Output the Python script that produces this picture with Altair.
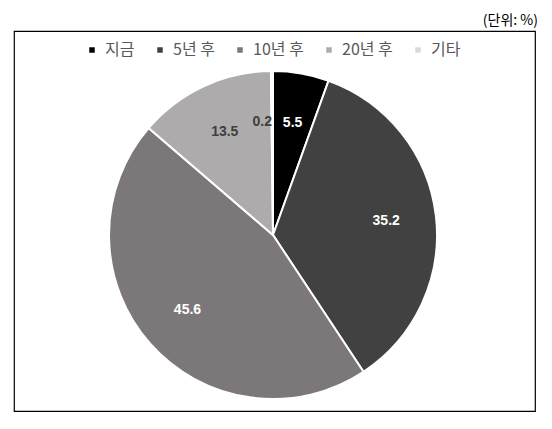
import altair as alt
import pandas as pd

categories = ["지금", "5년 후", "10년 후", "20년 후", "기타"]
values = [5.5, 35.2, 45.6, 13.5, 0.2]
labels = ["5.5", "35.2", "45.6", "13.5", "0.2"]
slice_colors = ["#000000", "#414141", "#7c7879", "#adabab", "#d9d9d9"]
label_colors = ["#ffffff", "#ffffff", "#ffffff", "#404040", "#404040"]
unit_note = ["(단위: %)"]

df = pd.DataFrame({
    "category": categories,
    "value": values,
    "label": labels,
    "order": list(range(len(categories))),
    "label_color": label_colors,
})

CX, CY = 259, 204

pie = alt.Chart(df).mark_arc(outerRadius=164, stroke="white", strokeWidth=2).encode(
    theta=alt.Theta("value:Q", stack=True),
    order=alt.Order("order:Q"),
    color=alt.Color(
        "category:N",
        sort=categories,
        scale=alt.Scale(domain=categories, range=slice_colors),
        legend=alt.Legend(
            orient="none", legendX=70, legendY=11, direction="horizontal",
            columns=5, title=None, symbolType="square", symbolSize=30,
            symbolStrokeWidth=0, labelFont="Noto Sans CJK KR", labelFontSize=16,
            labelColor="#595959", columnPadding=17, labelOffset=5,
        ),
    ),
    x=alt.value(CX),
    y=alt.value(CY),
)

text_base = alt.Chart(df).transform_window(
    cum="sum(value)", sort=[alt.SortField("order")]
).transform_calculate(
    mid="datum.cum - datum.value / 2"
)

theta_mid = alt.Theta("mid:Q", stack=False, scale=alt.Scale(domain=[0, 100], range=[0, 6.283185]))

text_main = text_base.transform_filter("datum.category != '기타'").mark_text(
    radius=114, fontSize=14, fontWeight="bold", font="Liberation Sans"
).encode(
    theta=theta_mid,
    text="label:N",
    color=alt.Color("label_color:N", scale=None),
    x=alt.value(CX),
    y=alt.value(CY),
)

text_small = text_base.transform_filter("datum.category == '기타'").mark_text(
    radius=113, fontSize=14, fontWeight="bold", font="Liberation Sans", dx=-10
).encode(
    theta=theta_mid,
    text="label:N",
    color=alt.Color("label_color:N", scale=None),
    x=alt.value(CX),
    y=alt.value(CY),
)

note = alt.Chart(pd.DataFrame({"note": unit_note})).mark_text(
    align="right", baseline="alphabetic", font="Noto Sans CJK KR",
    fontSize=14, color="#000000",
).encode(
    text="note:N",
    x=alt.value(524),
    y=alt.value(-6),
)

chart = alt.layer(pie, text_main, text_small, note).properties(
    width=521,
    height=380,
    padding={"left": 6, "top": 23, "right": 9, "bottom": 10},
    autosize="none",
    background="white",
).configure_view(stroke="#000000", strokeWidth=1.2)

chart.save("out.html", embed_options={"renderer": "svg", "actions": False})
